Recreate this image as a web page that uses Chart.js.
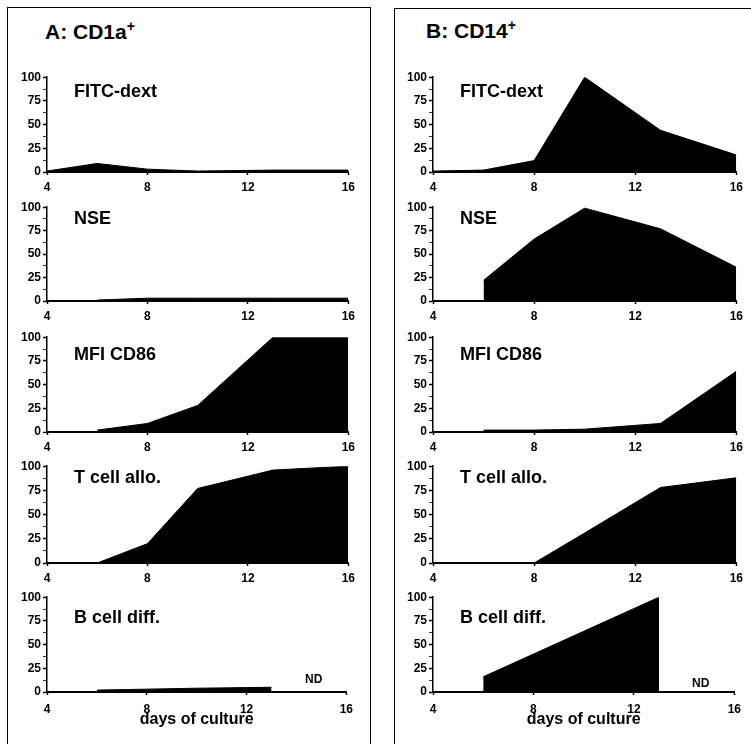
<!DOCTYPE html>
<html>
<head>
<meta charset="utf-8">
<script src="https://cdn.jsdelivr.net/npm/chart.js@4.4.0/dist/chart.umd.min.js"></script>
<style>
  body { margin: 0; width: 751px; height: 744px; overflow: hidden; background: #fff; position: relative;
         font-family: "Liberation Sans", Arial, Helvetica, sans-serif; color: #000; }
  .panel { position: absolute; border: 1.5px solid #000; border-bottom: none; height: 780px; }
  canvas { position: absolute; }
  .title { position: absolute; font-weight: bold; font-size: 21px; line-height: 22px; white-space: nowrap; }
  .title sup { font-size: 14px; vertical-align: 8px; line-height: 0; }
  .lbl { position: absolute; font-weight: bold; font-size: 18px; line-height: 20px; transform: translateY(-50%); white-space: nowrap; }
  .nd { position: absolute; font-weight: bold; font-size: 12px; line-height: 14px; transform: translateY(-50%); }
</style>
</head>
<body>
<div class="panel" style="left:7px; top:7px; width:362px;"></div>
<div class="panel" style="left:394px; top:8px; width:380px;"></div>
<div class="title" style="left:45px; top:21px;">A: CD1a<sup>+</sup></div>
<div class="title" style="left:426px; top:20px;">B: CD14<sup>+</sup></div>

<script>
// days sampled
const days = [4, 6, 8, 10, 13, 16];
const xTicks = [4, 8, 12, 16];
const yTicks = [0, 25, 50, 75, 100];
const yMinorTicks = [12.5, 37.5, 62.5, 87.5];

const assayLabels = ['FITC-dext', 'NSE', 'MFI CD86', 'T cell allo.', 'B cell diff.'];

// A: CD1a+
const cd1aFitc = [1, 9, 3, 1, 2, 2];
const cd1aNse = [null, 1, 3, 3, 3, 3];
const cd1aCd86 = [null, 2, 9, 28, 100, 100];
const cd1aTcell = [0, 0, 20, 77, 96, 100];
const cd1aBcell = [null, 2, 3, 4, 5, null];

// B: CD14+
const cd14Fitc = [1, 2, 12, 100, 44, 18];
const cd14Nse = [null, 22, 66, 99, 77, 36];
const cd14Cd86 = [null, 2, 2, 3, 9, 64];
const cd14Tcell = [0, 0, 0, 31, 78, 88];
const cd14Bcell = [null, 16, 40, 64, 100, null];

const ndText = 'ND';
const xTitle = 'days of culture';

// layout (pixels)
const rowTop = [76, 206, 336, 465, 596];
const rowZero = [172, 301, 432, 563, 692];
const labelY = [91, 218, 354, 477, 617];
const columns = [
  { left: 10, width: 350, labelX: 74, series: [cd1aFitc, cd1aNse, cd1aCd86, cd1aTcell, cd1aBcell], nd: [305, 679] },
  { left: 396, width: 352, labelX: 460, series: [cd14Fitc, cd14Nse, cd14Cd86, cd14Tcell, cd14Bcell], nd: [692, 683] }
];

const font = 'Liberation Sans, Arial, Helvetica, sans-serif';

function makeChart(col, row) {
  const last = row === 4;
  const h = rowZero[row] - rowTop[row];
  const axisH = last ? 40 : 24;
  const cv = document.createElement('canvas');
  cv.width = col.width;
  cv.height = 8 + h + axisH;
  cv.style.left = col.left + 'px';
  cv.style.top = (rowTop[row] - 8) + 'px';
  document.body.appendChild(cv);

  const values = col.series[row];

  new Chart(cv.getContext('2d'), {
    type: 'line',
    data: {
      datasets: [{
        data: days.map((d, i) => ({ x: d, y: values[i] })),
        borderColor: '#000',
        backgroundColor: '#000',
        borderWidth: 1,
        pointRadius: 0,
        tension: 0,
        fill: 'origin'
      }]
    },
    options: {
      responsive: false,
      animation: false,
      devicePixelRatio: 1,
      layout: { padding: { top: 8, right: 10, left: 0, bottom: 0 } },
      plugins: { legend: { display: false }, tooltip: { enabled: false } },
      scales: {
        x: {
          type: 'linear',
          min: 4,
          max: 16,
          afterBuildTicks: s => { s.ticks = xTicks.map(v => ({ value: v })); },
          afterFit: s => { s.height = axisH; },
          ticks: { color: '#000', font: { family: font, size: 12, weight: 'bold' }, padding: last ? 7 : 5, maxRotation: 0, autoSkip: false },
          grid: { drawOnChartArea: false, tickLength: 3, tickColor: '#000', tickWidth: 1.5 },
          border: { display: true, color: '#000', width: 2 },
          title: {
            display: last,
            text: xTitle,
            color: '#000',
            font: { family: font, size: 16, weight: 'bold' },
            padding: { top: 0, bottom: 3 }
          }
        },
        y: {
          min: 0,
          max: 100,
          afterBuildTicks: s => {
            s.ticks = yTicks.concat(yMinorTicks).sort((a, b) => a - b).map(v => ({ value: v }));
          },
          afterFit: s => { s.width = 37; },
          ticks: {
            color: '#000',
            font: { family: font, size: 12, weight: 'bold' },
            padding: 2,
            autoSkip: false,
            callback: v => yTicks.includes(v) ? v : ''
          },
          grid: {
            drawOnChartArea: false,
            tickLength: 4,
            tickColor: '#000',
            tickWidth: c => (c.tick && yTicks.includes(c.tick.value)) ? 1.5 : 0.8
          },
          border: { display: true, color: '#000', width: 1.5 }
        }
      }
    }
  });

  const lbl = document.createElement('div');
  lbl.className = 'lbl';
  lbl.textContent = assayLabels[row];
  lbl.style.left = col.labelX + 'px';
  lbl.style.top = labelY[row] + 'px';
  document.body.appendChild(lbl);
}

columns.forEach(col => {
  for (let r = 0; r < 5; r++) makeChart(col, r);
  const nd = document.createElement('div');
  nd.className = 'nd';
  nd.textContent = ndText;
  nd.style.left = col.nd[0] + 'px';
  nd.style.top = col.nd[1] + 'px';
  document.body.appendChild(nd);
});
</script>
</body>
</html>
